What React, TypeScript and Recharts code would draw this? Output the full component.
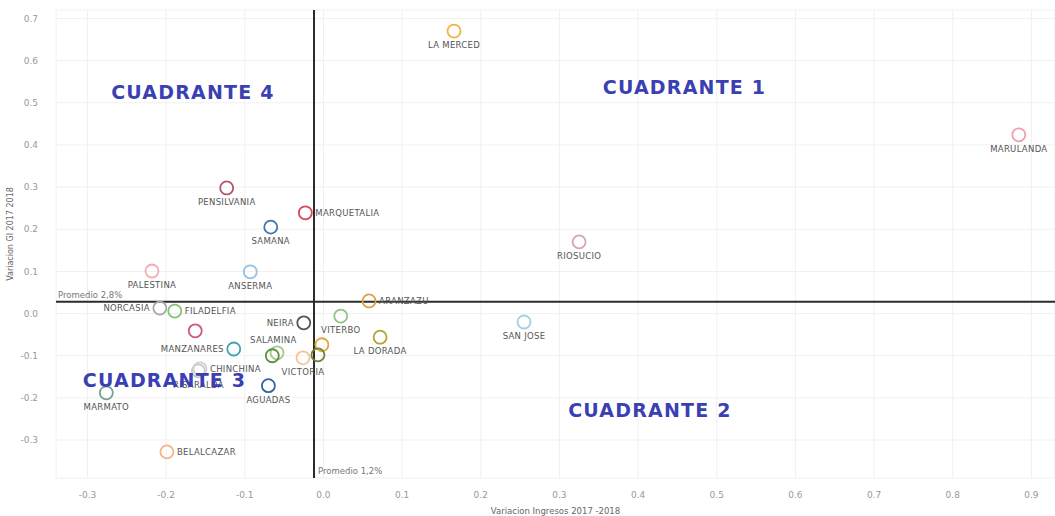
import {
  ScatterChart,
  Scatter,
  XAxis,
  YAxis,
  CartesianGrid,
  ReferenceLine,
  Label,
} from "recharts";

// municipios, variacion de ingresos (x) y variacion GI (y)
const municipios = [
  "LA MERCED", "MARULANDA", "RIOSUCIO", "PENSILVANIA", "MARQUETALIA", "SAMANA",
  "PALESTINA", "ANSERMA", "ARANZAZU", "NORCASIA", "FILADELFIA", "MANIZALES",
  "MANZANARES", "VILLAMARIA", "SALAMINA", "NEIRA", "VITERBO", "SAN JOSE",
  "LA DORADA", "VICTORIA", "PACORA", "SUPIA", "RISARALDA", "CHINCHINA",
  "AGUADAS", "MARMATO", "BELALCAZAR",
];
const varIngresos = [
  0.166, 0.884, 0.325, -0.123, -0.023, -0.067,
  -0.218, -0.093, 0.058, -0.208, -0.189, -0.163,
  -0.114, -0.059, -0.065, -0.025, 0.022, 0.255,
  0.072, -0.026, -0.002, -0.007, -0.159, -0.157,
  -0.07, -0.276, -0.199,
];
const varGI = [
  0.67, 0.424, 0.17, 0.298, 0.239, 0.205,
  0.101, 0.099, 0.03, 0.013, 0.006, -0.041,
  -0.084, -0.093, -0.1, -0.022, -0.006, -0.02,
  -0.056, -0.105, -0.074, -0.098, -0.136, -0.131,
  -0.171, -0.188, -0.328,
];

const xTicks = [-0.3, -0.2, -0.1, 0, 0.1, 0.2, 0.3, 0.4, 0.5, 0.6, 0.7, 0.8, 0.9];
const yTicks = [-0.3, -0.2, -0.1, 0, 0.1, 0.2, 0.3, 0.4, 0.5, 0.6, 0.7];

const promedioIngresos = -0.012;
const promedioGI = 0.028;

const cuadrantes = ["CUADRANTE 4", "CUADRANTE 1", "CUADRANTE 3", "CUADRANTE 2"];
const cuadranteX = [-0.166, 0.459, -0.202, 0.415];
const cuadranteY = [0.526, 0.538, -0.157, -0.229];

const data = municipios.map((name, i) => ({ name, x: varIngresos[i], y: varGI[i] }));
const quadData = cuadrantes.map((name, i) => ({ name, x: cuadranteX[i], y: cuadranteY[i] }));

const colors: Record<string, string> = {
  "LA MERCED": "#f2b544",
  MARULANDA: "#f0a0a8",
  RIOSUCIO: "#d9a3b3",
  PENSILVANIA: "#b35868",
  MARQUETALIA: "#d2485a",
  SAMANA: "#3f74b3",
  PALESTINA: "#f5aab8",
  ANSERMA: "#93c2e2",
  ARANZAZU: "#e0a040",
  NORCASIA: "#a8a8a8",
  FILADELFIA: "#85c474",
  MANIZALES: "#d25878",
  MANZANARES: "#45a2b2",
  VILLAMARIA: "#a8c888",
  SALAMINA: "#5f9040",
  NEIRA: "#555555",
  VITERBO: "#94c484",
  "SAN JOSE": "#a3d0e2",
  "LA DORADA": "#b4a434",
  VICTORIA: "#f5c598",
  PACORA: "#e2a838",
  SUPIA: "#728434",
  RISARALDA: "#c8c8c8",
  CHINCHINA: "#d0d0d0",
  AGUADAS: "#3464a4",
  MARMATO: "#74a494",
  BELALCAZAR: "#f5b488",
};

const labelSide: Record<string, string> = {
  MARQUETALIA: "right",
  ARANZAZU: "right",
  FILADELFIA: "right",
  CHINCHINA: "right",
  BELALCAZAR: "right",
  NORCASIA: "left",
  NEIRA: "left",
  MANZANARES: "left",
  SALAMINA: "above",
  MANIZALES: "none",
  VILLAMARIA: "none",
  PACORA: "none",
  SUPIA: "none",
};

const PointShape = (props: any) => {
  const { cx, cy, payload } = props;
  const side = labelSide[payload.name] ?? "below";
  let tx = cx;
  let ty = cy + 17;
  let anchor: "start" | "middle" | "end" = "middle";
  if (side === "right") {
    tx = cx + 10;
    ty = cy + 3;
    anchor = "start";
  } else if (side === "left") {
    tx = cx - 10;
    ty = cy + 3;
    anchor = "end";
  } else if (side === "above") {
    tx = cx + 1;
    ty = cy - 13;
  }
  return (
    <g>
      <circle cx={cx} cy={cy} r={6.5} fill="none" stroke={colors[payload.name]} strokeWidth={1.8} />
      {side !== "none" && (
        <text
          x={tx}
          y={ty}
          textAnchor={anchor}
          fontSize={8.5}
          fill="#555"
          fontFamily="DejaVu Sans"
          letterSpacing={0.3}
        >
          {payload.name}
        </text>
      )}
    </g>
  );
};

const QuadShape = (props: any) => {
  const { cx, cy, payload } = props;
  return (
    <text
      x={cx}
      y={cy + 7}
      textAnchor="middle"
      fontSize={19}
      fontWeight="bold"
      fontFamily="DejaVu Sans"
      letterSpacing={1.2}
      fill="#3b3fb4"
    >
      {payload.name}
    </text>
  );
};

export default function App() {
  return (
    <div style={{ position: "absolute", left: 0, top: 0, width: 1055, height: 516, background: "#fff" }}>
      <ScatterChart width={1055} height={516} margin={{ top: 10, right: 0, bottom: 0, left: 0 }}>
        <CartesianGrid stroke="#f0f0f0" />
        <XAxis
          type="number"
          dataKey="x"
          domain={[-0.34, 0.93]}
          ticks={xTicks}
          allowDataOverflow
          axisLine={false}
          tickLine={false}
          height={38}
          tickMargin={8}
          tickFormatter={(v) => v.toFixed(1)}
          tick={{ fontSize: 9, fill: "#999", fontFamily: "DejaVu Sans" }}
        >
          <Label
            value="Variacion Ingresos 2017 -2018"
            position="insideBottom"
            offset={2}
            style={{ fontSize: 8.5, fill: "#666", fontFamily: "DejaVu Sans" }}
          />
        </XAxis>
        <YAxis
          type="number"
          dataKey="y"
          domain={[-0.39, 0.72]}
          ticks={yTicks}
          allowDataOverflow
          axisLine={false}
          tickLine={false}
          width={56}
          tickSize={16}
          tickFormatter={(v) => v.toFixed(1)}
          tick={{ fontSize: 9, fill: "#999", fontFamily: "DejaVu Sans" }}
        >
          <Label
            value="Variacion GI 2017 2018"
            angle={-90}
            position="insideLeft"
            offset={10}
            dy={-10}
            style={{ fontSize: 8, fill: "#666", fontFamily: "DejaVu Sans", textAnchor: "middle" }}
          />
        </YAxis>
        <ReferenceLine y={promedioGI} stroke="#2b2b2b" strokeWidth={2}>
          <Label
            value="Promedio 2,8%"
            position="insideTopLeft"
            offset={2}
            dy={-12}
            style={{ fontSize: 8.5, fill: "#777", fontFamily: "DejaVu Sans" }}
          />
        </ReferenceLine>
        <ReferenceLine x={promedioIngresos} stroke="#2b2b2b" strokeWidth={2}>
          <Label
            value="Promedio 1,2%"
            position="insideBottomLeft"
            offset={4}
            style={{ fontSize: 8.5, fill: "#777", fontFamily: "DejaVu Sans" }}
          />
        </ReferenceLine>
        <Scatter data={data} shape={PointShape} isAnimationActive={false} />
        <Scatter data={quadData} shape={QuadShape} isAnimationActive={false} />
      </ScatterChart>
    </div>
  );
}
